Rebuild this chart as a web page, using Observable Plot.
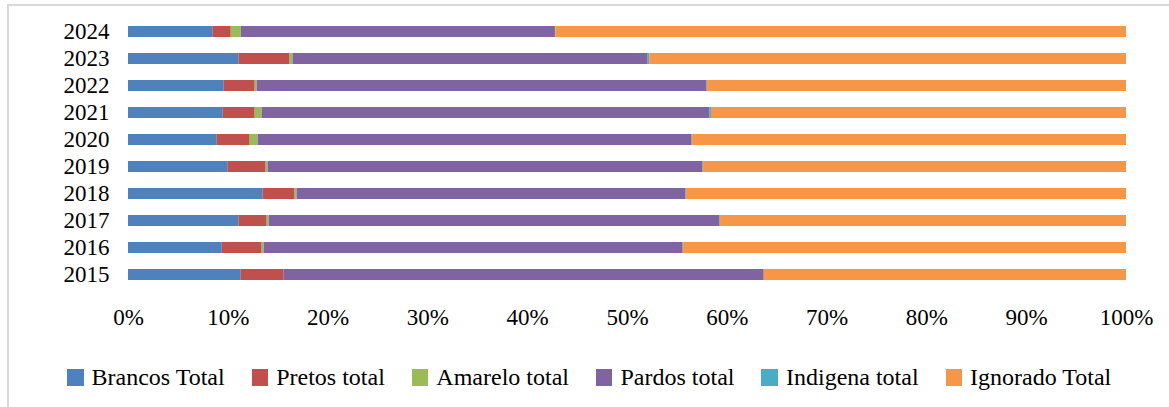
<!DOCTYPE html>
<html>
<head>
<meta charset="utf-8">
<script src="https://cdn.jsdelivr.net/npm/d3@7"></script>
<script src="https://cdn.jsdelivr.net/npm/@observablehq/plot@0.6"></script>
<style>
  html, body { margin: 0; padding: 0; background: #fff; }
  #wrap { position: relative; width: 1169px; height: 407px; overflow: hidden; font-family: "Liberation Serif", "Times New Roman", serif; }
  #frame { position: absolute; left: 7px; top: 4px; width: 1200px; height: 500px; border-top: 2px solid #d9d9d9; border-left: 2px solid #d9d9d9; box-sizing: border-box; }
  #chart { position: absolute; left: 0; top: 0; }
  #legend { position: absolute; left: 67px; top: 364px; display: flex; align-items: center; gap: 27px; font-size: 24px; color: #000; white-space: nowrap; }
  .item { display: flex; align-items: center; gap: 8px; }
  .sw { width: 16.5px; height: 16.5px; display: inline-block; }
</style>
</head>
<body>
<div id="wrap">
  <div id="frame"></div>
  <div id="chart"></div>
  <div id="legend"></div>
</div>
<script>
// Data (percent of each year's total)
const years = ["2024", "2023", "2022", "2021", "2020", "2019", "2018", "2017", "2016", "2015"];
const categories = ["Brancos Total", "Pretos total", "Amarelo total", "Pardos total", "Indigena total", "Ignorado Total"];
const colors = ["#4f81bd", "#c0504d", "#9bbb59", "#8064a2", "#4bacc6", "#f79646"];
const brancos   = [8.5, 11.1, 9.6, 9.5, 8.9, 10.0, 13.5, 11.1, 9.4, 11.3];
const pretos    = [1.8, 5.1, 3.1, 3.2, 3.3, 3.8, 3.2, 2.8, 4.0, 4.3];
const amarelo   = [1.0, 0.3, 0.2, 0.7, 0.8, 0.2, 0.2, 0.2, 0.2, 0.0];
const pardos    = [31.5, 35.6, 45.1, 44.9, 43.5, 43.6, 39.0, 45.2, 42.0, 48.1];
const indigena  = [0.05, 0.15, 0.05, 0.15, 0.05, 0.05, 0.05, 0.05, 0.05, 0.0];
const ignorado  = [57.2, 47.8, 42.0, 41.6, 43.5, 42.4, 44.1, 40.7, 44.4, 36.3];
const xTicks = [0, 0.1, 0.2, 0.3, 0.4, 0.5, 0.6, 0.7, 0.8, 0.9, 1];

const series = [brancos, pretos, amarelo, pardos, indigena, ignorado];
const rows = [];
categories.forEach((c, i) => {
  years.forEach((y, j) => rows.push({year: y, category: c, value: series[i][j]}));
});

const chart = Plot.plot({
  width: 1169,
  height: 345,
  marginLeft: 128,
  marginRight: 43,
  marginTop: 18,
  marginBottom: 57,
  style: {fontFamily: "'Liberation Serif', 'Times New Roman', serif", fontSize: "23px", color: "#000", background: "transparent"},
  x: {domain: [0, 1], ticks: xTicks, tickFormat: d3.format(".0%")},
  y: {domain: years, paddingInner: 0.59, paddingOuter: 0.295},
  color: {domain: categories, range: colors},
  marks: [
    Plot.ruleX(xTicks, {stroke: "#d9d9d9", strokeWidth: 2, y1: null}),
    Plot.barX(rows, Plot.stackX({offset: "normalize", order: null}, {x: "value", y: "year", fill: "category", z: "category"})),
    Plot.axisX({ticks: xTicks, tickFormat: d3.format(".0%"), tickSize: 0, tickPadding: 20, fontSize: 23, label: null}),
    Plot.axisY({tickSize: 0, tickPadding: 19, fontSize: 23, label: null})
  ]
});
document.getElementById("chart").appendChild(chart);

const legend = document.getElementById("legend");
categories.forEach((c, i) => {
  const item = document.createElement("div");
  item.className = "item";
  const sw = document.createElement("span");
  sw.className = "sw";
  sw.style.background = colors[i];
  const t = document.createElement("span");
  t.textContent = c;
  item.appendChild(sw);
  item.appendChild(t);
  legend.appendChild(item);
});
</script>
</body>
</html>
